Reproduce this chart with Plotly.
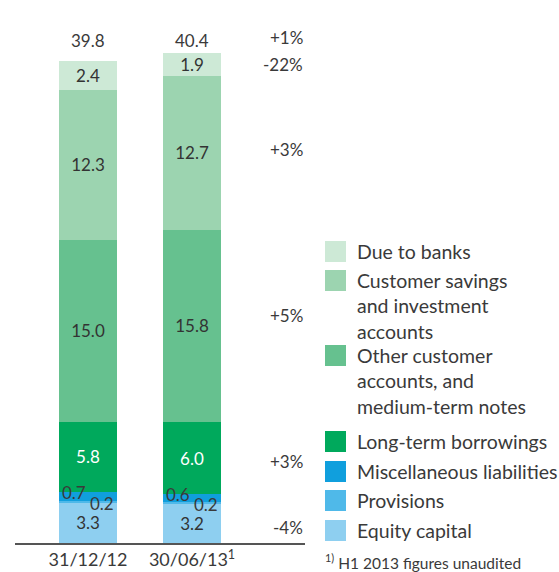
import plotly.graph_objects as go

# ---- data ----
categories = ["31/12/12", "30/06/13"]
tick_labels = ["31/12/12", "30/06/13<sup>1</sup>"]
series_names = [
    "Equity capital",
    "Provisions",
    "Miscellaneous liabilities",
    "Long-term borrowings",
    "Other customer<br>accounts, and<br>medium-term notes",
    "Customer savings<br>and investment<br>accounts",
    "Due to banks",
]
equity_capital = [3.3, 3.2]
provisions = [0.2, 0.2]
misc_liabilities = [0.7, 0.6]
long_term_borrowings = [5.8, 6.0]
other_customer_accounts = [15.0, 15.8]
customer_savings = [12.3, 12.7]
due_to_banks = [2.4, 1.9]
totals = [39.8, 40.4]
changes = ["+1%", "-22%", "+3%", "+5%", "+3%", "-4%"]
change_y = [41.6, 39.4, 32.4, 18.7, 6.7, 1.3]  # label heights in data units

series_values = [equity_capital, provisions, misc_liabilities, long_term_borrowings,
                 other_customer_accounts, customer_savings, due_to_banks]
colors = ["#8ecff0", "#4fb9e9", "#109fdd", "#00a95c", "#66c18f", "#9cd4b0", "#cde9d6"]
text_colors = ["#333333", "#333333", "#333333", "#ffffff", "#333333", "#333333", "#333333"]
show_inside = [True, False, False, True, True, True, True]

FONT = "Lato, Open Sans, sans-serif"
TXT = "#3a3a3a"

# plot area geometry (pixels)
PL, PR, PT, PB = 15, 305, 20, 543
PW, PH = PR - PL, PB - PT


def px(xp):
    return (xp - PL) / PW


def py(yp):
    return (PB - yp) / PH


fig = go.Figure()
x_idx = list(range(len(categories)))
for name, vals, col, tcol, show in zip(series_names, series_values, colors, text_colors, show_inside):
    fig.add_trace(go.Bar(
        x=x_idx, y=vals, name=name, marker=dict(color=col, line=dict(width=0)),
        width=0.558,
        text=[f"{v:.1f}" for v in vals] if show else None,
        textposition="inside" if show else "none",
        insidetextanchor="middle",
        textfont=dict(family=FONT, size=17, color=tcol),
        constraintext="none",
        showlegend=False,
        hoverinfo="skip",
    ))

annotations = []
for i in x_idx:
    base_misc = equity_capital[i] + provisions[i]
    annotations.append(dict(x=i, y=base_misc + misc_liabilities[i] / 2, xref="x", yref="y",
                            text=f"{misc_liabilities[i]:.1f}", showarrow=False, xshift=-14, yshift=4,
                            font=dict(family=FONT, size=17, color=TXT)))
    annotations.append(dict(x=i, y=equity_capital[i] + provisions[i] / 2, xref="x", yref="y",
                            text=f"{provisions[i]:.1f}", showarrow=False, xshift=14, yshift=-2,
                            font=dict(family=FONT, size=17, color=TXT)))
    annotations.append(dict(x=i, y=41.4, xref="x", yref="y", text=f"{totals[i]:.1f}",
                            showarrow=False, font=dict(family=FONT, size=17, color=TXT)))

for t, yv in zip(changes, change_y):
    annotations.append(dict(x=1.0, y=yv, xref="paper", yref="y", text=t, showarrow=False,
                            xanchor="right", font=dict(family=FONT, size=17, color=TXT)))

legend_order = list(reversed(range(len(series_names))))
sq_tops = [241, 270, 345, 431, 461, 490, 520]
shapes = []
for k, si in enumerate(legend_order):
    top = sq_tops[k]
    shapes.append(dict(type="rect", xref="paper", yref="paper",
                       x0=px(325), x1=px(346), y0=py(top + 21), y1=py(top),
                       fillcolor=colors[si], line=dict(width=0)))
    annotations.append(dict(x=px(355), y=py(top - 3), xref="paper", yref="paper",
                            text=series_names[si], showarrow=False, xanchor="left", yanchor="top",
                            align="left", font=dict(family=FONT, size=19.5, color=TXT)))

annotations.append(dict(x=px(323), y=py(549), xref="paper", yref="paper",
                        text="<sup>1)</sup> H1 2013 figures unaudited", showarrow=False,
                        xanchor="left", yanchor="top", font=dict(family=FONT, size=15.5, color=TXT)))
annotations.append(dict(x=0, y=py(3), xref="paper", yref="paper",
                        text="in EUR billions, rounded", showarrow=False,
                        xanchor="left", yanchor="bottom", font=dict(family=FONT, size=16, color=TXT)))

fig.update_layout(
    width=559, height=572,
    margin=dict(l=PL, r=559 - PR, t=PT, b=572 - PB, autoexpand=False),
    barmode="stack",
    plot_bgcolor="white", paper_bgcolor="white",
    xaxis=dict(range=[-0.702, 2.086], tickvals=x_idx, ticktext=tick_labels,
               showgrid=False, zeroline=False, showline=True, linecolor="#555555", linewidth=1.5,
               ticks="", automargin=False, tickfont=dict(family=FONT, size=18, color=TXT)),
    yaxis=dict(range=[0, PH / 12.14], visible=False, automargin=False),
    annotations=annotations,
    shapes=shapes,
    font=dict(family=FONT),
)
fig.write_html("out.html", config={"displayModeBar": False},
               post_script="document.body.style.margin='0';document.body.style.overflow='hidden';")
